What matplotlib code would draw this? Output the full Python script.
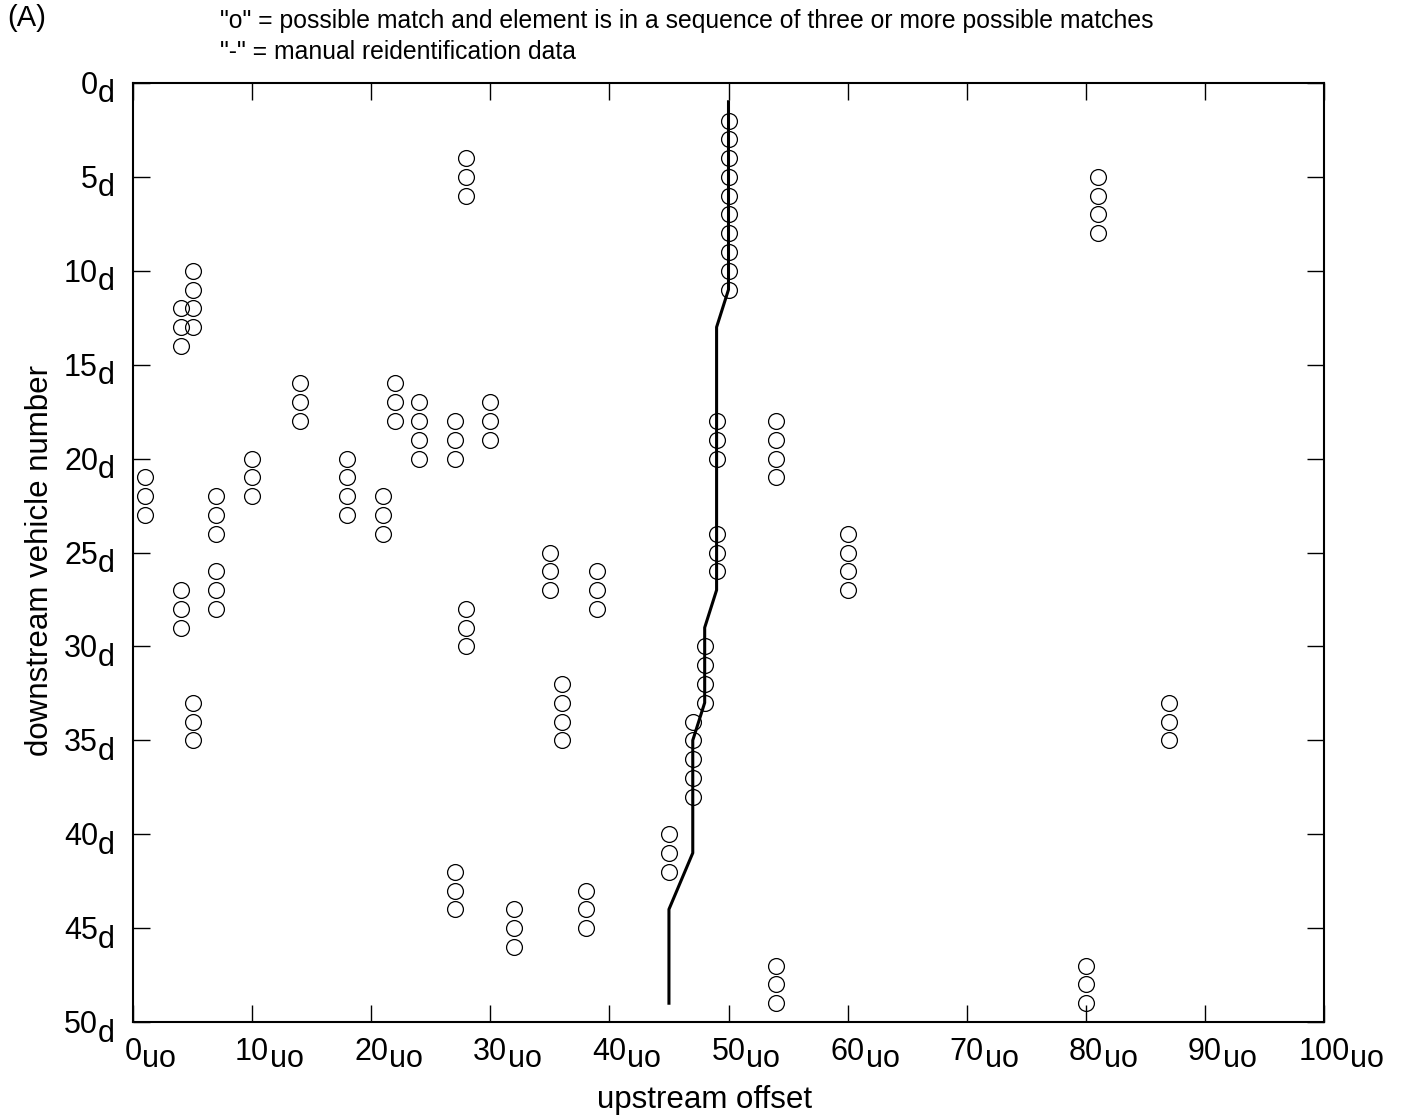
import numpy as np
import matplotlib
matplotlib.use("Agg")
import matplotlib.pyplot as plt
from matplotlib.transforms import blended_transform_factory

plt.rcParams['font.family'] = ['Liberation Sans', 'DejaVu Sans']

# possible matches in runs of three or more (upstream offset, downstream vehicle)
circle_x = [1, 1, 1,
            4, 4, 4, 4, 4, 4,
            5, 5, 5, 5, 5, 5, 5,
            7, 7, 7, 7, 7, 7,
            10, 10, 10,
            14, 14, 14,
            18, 18, 18, 18,
            21, 21, 21,
            22, 22, 22,
            24, 24, 24, 24,
            27, 27, 27, 27, 27, 27,
            28, 28, 28, 28, 28, 28,
            30, 30, 30,
            32, 32, 32,
            35, 35, 35,
            36, 36, 36, 36,
            38, 38, 38,
            39, 39, 39,
            45, 45, 45,
            47, 47, 47, 47, 47,
            48, 48, 48, 48,
            49, 49, 49, 49, 49, 49,
            50, 50, 50, 50, 50, 50, 50, 50, 50, 50,
            54, 54, 54, 54, 54, 54, 54,
            60, 60, 60, 60,
            80, 80, 80,
            81, 81, 81, 81,
            87, 87, 87]
circle_y = [21, 22, 23,
            12, 13, 14, 27, 28, 29,
            10, 11, 12, 13, 33, 34, 35,
            22, 23, 24, 26, 27, 28,
            20, 21, 22,
            16, 17, 18,
            20, 21, 22, 23,
            22, 23, 24,
            16, 17, 18,
            17, 18, 19, 20,
            18, 19, 20, 42, 43, 44,
            4, 5, 6, 28, 29, 30,
            17, 18, 19,
            44, 45, 46,
            25, 26, 27,
            32, 33, 34, 35,
            43, 44, 45,
            26, 27, 28,
            40, 41, 42,
            34, 35, 36, 37, 38,
            30, 31, 32, 33,
            18, 19, 20, 24, 25, 26,
            2, 3, 4, 5, 6, 7, 8, 9, 10, 11,
            18, 19, 20, 21, 47, 48, 49,
            24, 25, 26, 27,
            47, 48, 49,
            5, 6, 7, 8,
            33, 34, 35]

# manual reidentification path
manual_x = [50, 50, 49, 49, 48, 48, 47, 47, 45, 45]
manual_y = [1, 11, 13, 27, 29, 33, 35, 41, 44, 49]

x_ticks = [0, 10, 20, 30, 40, 50, 60, 70, 80, 90, 100]
y_ticks = [0, 5, 10, 15, 20, 25, 30, 35, 40, 45, 50]

W, H = 1406, 1120
fig = plt.figure(figsize=(W / 100, H / 100), dpi=100)
ax = fig.add_axes([133 / W, 1 - 1022 / H, (1324 - 133) / W, (1022 - 83) / H])

ax.plot(manual_x, manual_y, color='black', lw=2.2, zorder=2)
ax.plot(circle_x, circle_y, ls='none', marker='o', ms=11.4, mfc='none',
        mec='black', mew=0.9, zorder=3)

ax.set_xlim(0, 100)
ax.set_ylim(50, 0)
ax.set_xticks(x_ticks)
ax.set_yticks(y_ticks)
ax.tick_params(direction='in', length=12, width=1, top=True, right=True,
               labelbottom=False, labelleft=False)
for s in ax.spines.values():
    s.set_linewidth(1.5)

tick_fs = 22
digit_px = 0.556 * tick_fs * 100 / 72

# tick labels with full size subscripts
xt = blended_transform_factory(ax.transData, ax.transAxes)
for v in x_ticks:
    ax.annotate(str(v), xy=(v, 0), xycoords=xt, xytext=(0, -38),
                textcoords='offset pixels', ha='center', va='baseline',
                fontsize=tick_fs)
    ax.annotate('uo', xy=(v, 0), xycoords=xt,
                xytext=(len(str(v)) * digit_px / 2 + 1, -45),
                textcoords='offset pixels', ha='left', va='baseline',
                fontsize=tick_fs)

yt = blended_transform_factory(ax.transAxes, ax.transData)
for v in y_ticks:
    ax.annotate(str(v), xy=(0, v), xycoords=yt, xytext=(-35, -11),
                textcoords='offset pixels', ha='right', va='baseline',
                fontsize=tick_fs)
    ax.annotate('d', xy=(0, v), xycoords=yt, xytext=(-35, -19.5),
                textcoords='offset pixels', ha='left', va='baseline',
                fontsize=tick_fs)

fig.text(705 / W, 1 - 1108 / H, 'upstream offset', ha='center',
         va='baseline', fontsize=22.5)
fig.text(40 / W, 1 - 560 / H, 'downstream vehicle number', ha='center',
         va='center', rotation=90, fontsize=22.5)

fig.text(7 / W, 1 - 26 / H, '(A)', ha='left', va='baseline', fontsize=21)
fig.text(220 / W, 1 - 28 / H,
         '"o" = possible match and element is in a sequence of three or more possible matches',
         ha='left', va='baseline', fontsize=17.8)
fig.text(220 / W, 1 - 59 / H, '"-" = manual reidentification data',
         ha='left', va='baseline', fontsize=17.8)

fig.savefig('out.png', dpi=100)
